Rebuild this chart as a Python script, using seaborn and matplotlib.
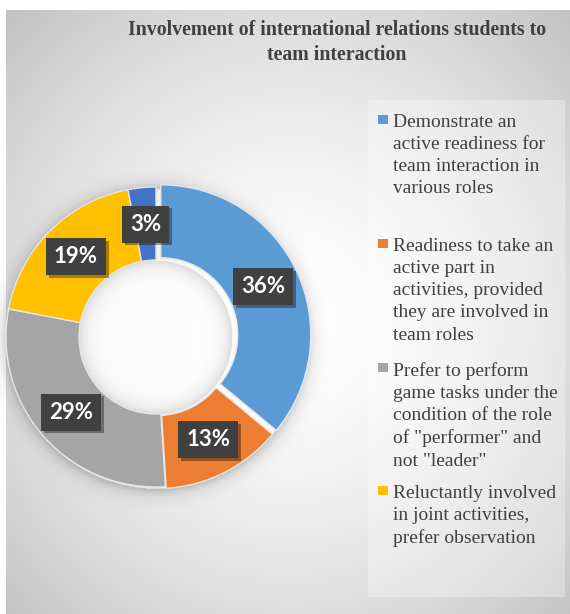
import numpy as np
import pandas as pd
import matplotlib
matplotlib.use("Agg")
import matplotlib.pyplot as plt
import matplotlib.patheffects as pe
from matplotlib.patches import Rectangle
import seaborn as sns

# ---- data ----
categories = [
    "Demonstrate an\nactive readiness for\nteam interaction in\nvarious roles",
    "Readiness to take an\nactive part in\nactivities, provided\nthey are involved in\nteam roles",
    "Prefer to perform\ngame tasks under the\ncondition of the role\nof \"performer\" and\nnot \"leader\"",
    "Reluctantly involved\nin joint activities,\nprefer observation",
    "Other",
]
values = [36, 13, 29, 19, 3]
colors = ["#5B9BD5", "#ED7D31", "#A5A5A5", "#FFC000", "#4472C4"]
legend_count = 4
title = "Involvement of international relations students to\nteam interaction"

df = pd.DataFrame({"category": categories, "value": values, "color": colors})

sns.set_theme(style="white")
W, H = 570, 614
fig = plt.figure(figsize=(W / 100, H / 100), dpi=100, facecolor="white")

# ---- background gradient ----
bg = fig.add_axes([6 / W, 0, 1 - 6 / W, 1 - 10 / H], zorder=0)
xs = np.arange(6, W)
ys = np.arange(10, H)
X, Y = np.meshgrid(xs, ys)
d = np.sqrt(((X - 290) / 300.0) ** 2 + ((Y - 320) / 320.0) ** 2)
v = 255 - 38 * d ** 1.6
v = np.clip(v, 190, 255) / 255.0
img = np.dstack([v, v, v])
bg.imshow(img, extent=(6, W, H, 10), aspect="auto", interpolation="bilinear")
bg.set_xlim(6, W)
bg.set_ylim(H, 10)
bg.axis("off")
# legend panel
bg.add_patch(Rectangle((368, 100), 197, 497, facecolor="white", alpha=0.3, edgecolor="none"))

# ---- donut ----
cx, cy, R = 156, 337, 150
hole = 77 / 150
S = 1.15
L = R * S
ax = fig.add_axes([(cx - L) / W, 1 - (cy + L) / H, 2 * L / W, 2 * L / H], zorder=2)

# soft shadow around ring and inside the hole
g = np.linspace(-S, S, 500)
GX, GY = np.meshgrid(g, g)
rr = np.sqrt((GX - 0.01) ** 2 + (GY + 0.01) ** 2)
sh = np.zeros(rr.shape + (4,))
outer = rr > 1
sh[..., 3] = np.where(outer, 0.22 * np.exp(-(rr - 1) / 0.045), 0)
ax.imshow(sh, extent=(-S, S, -S, S), origin="lower", zorder=0, interpolation="bilinear")
r0 = np.sqrt(GX ** 2 + GY ** 2)
hl = np.zeros(r0.shape + (4,))
inside = r0 < hole
gl = 1 - 0.16 * np.exp(-(hole - r0) / 0.05)
hl[..., 0] = gl
hl[..., 1] = gl
hl[..., 2] = gl
hl[..., 3] = np.where(inside, 0.85, 0)
ax.imshow(hl, extent=(-S, S, -S, S), origin="lower", zorder=0.5, interpolation="bilinear")

wedges, texts, autotexts = ax.pie(
    df["value"], colors=df["color"], startangle=90, counterclock=False,
    explode=[0.035, 0.012, 0, 0, 0], radius=1,
    wedgeprops=dict(width=1 - hole, edgecolor="#e6e6e6", linewidth=1),
    autopct=lambda p: f"{p:.0f}%", pctdistance=(1 + hole) / 2,
    textprops=dict(color="white", fontsize=16, fontweight="bold", family="Lato"),
)
ax.set_xlim(-S, S)
ax.set_ylim(-S, S)
ax.axis("off")
for t in autotexts:
    t.set_zorder(5)
    t.set_bbox(dict(boxstyle="square,pad=0.36", facecolor="#404040", edgecolor="none"))
    t.get_bbox_patch().set_path_effects([
        pe.SimplePatchShadow(offset=(2, -2), shadow_rgbFace="black", alpha=0.35),
        pe.Normal(),
    ])

# ---- title ----
fig.text(337 / W, 1 - 20 / H, title, ha="center", va="top", fontsize=14.3,
         fontweight="bold", family="Liberation Serif", color="#404040", linespacing=1.33)

# ---- legend ----
baselines = [128, 252, 376, 499]
for i in range(legend_count):
    fig.patches.append(Rectangle((378 / W, 1 - (baselines[i] - 4) / H), 10 / W, 9.5 / H,
                                 transform=fig.transFigure, facecolor=colors[i],
                                 edgecolor="none", zorder=3))
    fig.text(393 / W, 1 - (baselines[i] - 14.3) / H, categories[i], ha="left", va="top",
             fontsize=14, family="Liberation Serif", color="#404040", linespacing=1.4,
             zorder=3)

fig.savefig("out.png", dpi=100, facecolor="white")
